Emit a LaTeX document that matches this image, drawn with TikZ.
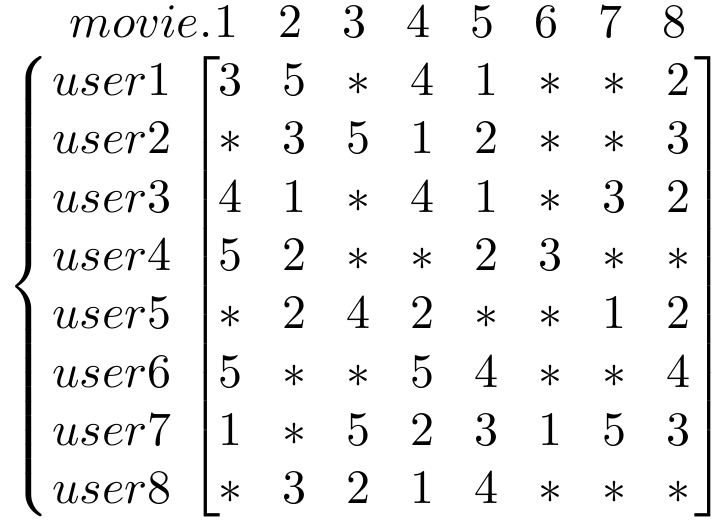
\documentclass[tikz,border=0pt]{standalone}
\usetikzlibrary{positioning}
\tikzset{entry/.style={inner sep=0pt, text height=6.5pt, text depth=0pt}}
\tikzset{delim/.style={inner sep=0pt, outer sep=0pt}}
\nulldelimiterspace=0pt
\delimitershortfall=0pt
\delimiterfactor=1000
\newcommand{\tallbox}{\vcenter{\hbox{\rule{0pt}{95.6pt}}}}

\begin{document}
\begin{tikzpicture}[x=13.33pt,y=12.15pt]
  \useasboundingbox (-2.609,0.372) rectangle (8.641,-8.684);

  % header
  \foreach \j in {1,...,8}
    \node[entry] (m\j) at (\j-0.07,0) {$\j$};
  \node[anchor=base east, inner sep=0pt] (movie) at (m1.base west) {$movie.$};

  % users
  \foreach \i in {1,...,8}
    \node[entry] (u\i) at (-0.86,-\i) {$user\i$};

  % ratings
  \foreach \row [count=\i] in {{3,5,*,4,1,*,*,2},{*,3,5,1,2,*,*,3},
      {4,1,*,4,1,*,3,2},{5,2,*,*,2,3,*,*},{*,2,4,2,*,*,1,2},
      {5,*,*,5,4,*,*,4},{1,*,5,2,3,1,5,3},{*,3,2,1,4,*,*,*}}
    \foreach \v [count=\j] in \row
      \node[entry] (r\i-\j) at (\j,-\i) {$\v$};

  % delimiters
  \node[delim] (brace) at (-2.16,-4.54) {$\left\{\tallbox\right.$};
  \node[delim] (lbr) at (0.59,-4.54) {$\left[\tallbox\right.$};
  \node[delim] (rbr) at (8.5,-4.54) {$\left.\tallbox\right]$};
\end{tikzpicture}
\end{document}
